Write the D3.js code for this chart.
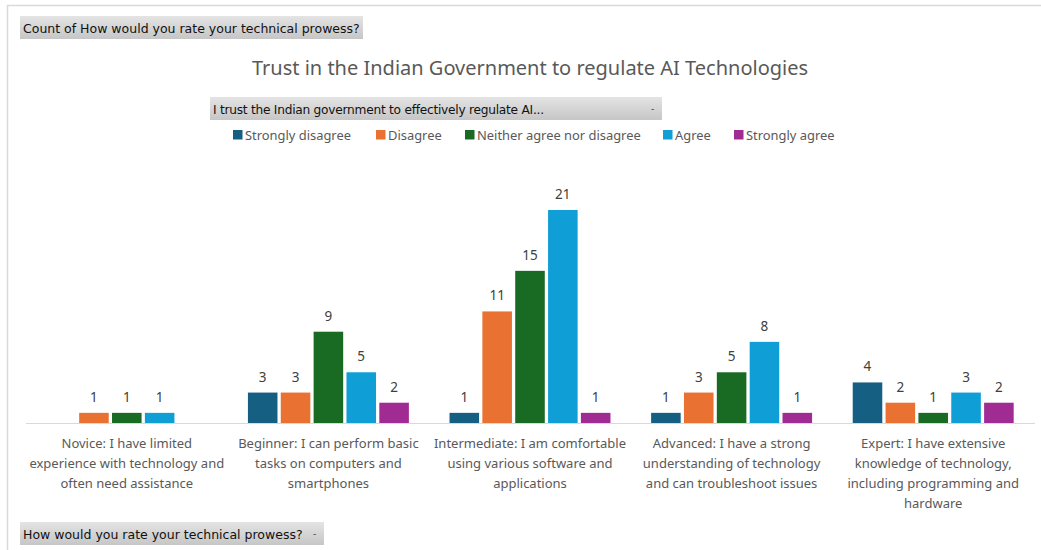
<!DOCTYPE html>
<html>
<head>
<meta charset="utf-8">
<script src="https://cdn.jsdelivr.net/npm/d3@7"></script>
<style>
  html, body { margin: 0; padding: 0; background: #fff; }
  svg { display: block; }
</style>
</head>
<body>
<svg id="chart" width="1041" height="550"></svg>
<script>
// Skill levels (x-axis groups), each label pre-split into its display lines
const categories = ["Novice", "Beginner", "Intermediate", "Advanced", "Expert"];
const categoryLines = [
  ["Novice: I have limited", "experience with technology and", "often need assistance"],
  ["Beginner: I can perform basic", "tasks on computers and", "smartphones"],
  ["Intermediate: I am comfortable", "using various software and", "applications"],
  ["Advanced: I have a strong", "understanding of technology", "and can troubleshoot issues"],
  ["Expert: I have extensive", "knowledge of technology,", "including programming and", "hardware"]
];

// Responses to "I trust the Indian government to effectively regulate AI"
const seriesNames = ["Strongly disagree", "Disagree", "Neither agree nor disagree", "Agree", "Strongly agree"];
const stronglyDisagree = [null, 3, 1, 1, 4];
const disagree         = [1, 3, 11, 3, 2];
const neither          = [1, 9, 15, 5, 1];
const agree            = [1, 5, 21, 8, 3];
const stronglyAgree    = [null, 2, 1, 1, 2];
const seriesValues = [stronglyDisagree, disagree, neither, agree, stronglyAgree];
const seriesColors = ["#156082", "#E97132", "#196B24", "#0F9ED5", "#A02B93"];

const svg = d3.select("#chart");
const chartFont = "'Noto Sans', 'Open Sans', sans-serif";
const btnFont = "'DejaVu Sans', 'Liberation Sans', sans-serif";

// Pivot chart frame
svg.append("path")
  .attr("d", "M7.5,560 V5.5 H1045")
  .attr("fill", "none").attr("stroke", "#d9d9d9").attr("stroke-width", 1.5);

// Gradient used by the field buttons
const defs = svg.append("defs");
const grad = defs.append("linearGradient").attr("id", "btnGrad")
  .attr("x1", 0).attr("y1", 0).attr("x2", 0).attr("y2", 1);
grad.append("stop").attr("offset", "0%").attr("stop-color", "#e4e4e4");
grad.append("stop").attr("offset", "100%").attr("stop-color", "#c6c6c6");

function fieldButton(x, y, w, h, label, dropdown, size, spacing) {
  const g = svg.append("g").attr("transform", `translate(${x},${y})`);
  g.append("rect").attr("width", w).attr("height", h).attr("fill", "url(#btnGrad)");
  g.append("text").attr("x", 3).attr("y", h / 2 + 5)
    .attr("font-family", btnFont).attr("font-size", size).attr("fill", "#111")
    .attr("letter-spacing", spacing)
    .text(label);
  if (dropdown) {
    g.append("text").attr("x", w - 11).attr("y", h / 2 + 3)
      .attr("font-family", btnFont).attr("font-size", 9).attr("fill", "#333")
      .text("-");
  }
}

fieldButton(20, 16, 343, 23, "Count of How would you rate your technical prowess?", false, 12.5, 0);
fieldButton(210, 97, 452, 23, "I trust the Indian government to effectively regulate AI...", true, 12.2, -0.25);
fieldButton(20, 522, 304, 23, "How would you rate your technical prowess?", true, 12.5, 0);

// Title
svg.append("text")
  .attr("x", 530).attr("y", 75).attr("text-anchor", "middle")
  .attr("font-family", chartFont).attr("font-size", 20).attr("fill", "#595959")
  .text("Trust in the Indian Government to regulate AI Technologies");

// Legend
const legendX = [233, 376, 465, 663, 734];
const legend = svg.append("g");
seriesNames.forEach((name, i) => {
  legend.append("rect").attr("x", legendX[i]).attr("y", 130)
    .attr("width", 9.5).attr("height", 9.5).attr("fill", seriesColors[i]);
  legend.append("text").attr("x", legendX[i] + 12).attr("y", 140)
    .attr("font-family", chartFont).attr("font-size", 12.9).attr("fill", "#595959")
    .text(name);
});

// Scales
const x0 = d3.scaleBand().domain(categories).range([26, 1034]).paddingInner(0.169).paddingOuter(0.0845);
const x1 = d3.scaleBand().domain(seriesNames).range([0, x0.bandwidth()]).padding(0.1);
const y = d3.scaleLinear().domain([0, 21]).range([423, 210]);

// Bars and value labels
const plot = svg.append("g");
categories.forEach((cat, ci) => {
  const g = plot.append("g").attr("transform", `translate(${x0(cat)},0)`);
  seriesNames.forEach((s, si) => {
    const v = seriesValues[si][ci];
    if (v == null) return;
    g.append("rect")
      .attr("x", x1(s)).attr("width", x1.bandwidth())
      .attr("y", y(v)).attr("height", y(0) - y(v))
      .attr("fill", seriesColors[si]);
    g.append("text")
      .attr("x", x1(s) + x1.bandwidth() / 2).attr("y", y(v) - 11)
      .attr("text-anchor", "middle")
      .attr("font-family", chartFont).attr("font-size", 13.5).attr("fill", "#404040")
      .text(v);
  });
});

// Category axis line
svg.append("line").attr("x1", 26).attr("x2", 1035).attr("y1", 423.5).attr("y2", 423.5)
  .attr("stroke", "#d9d9d9").attr("stroke-width", 1.2);

// Category labels
const axisLabels = svg.append("g");
categories.forEach((cat, ci) => {
  const cx = x0(cat) + x0.bandwidth() / 2;
  const t = axisLabels.append("text").attr("text-anchor", "middle")
    .attr("font-family", chartFont).attr("font-size", 13).attr("fill", "#595959");
  categoryLines[ci].forEach((line, li) => {
    t.append("tspan").attr("x", cx).attr("y", 448 + li * 20).text(line);
  });
});
</script>
</body>
</html>
